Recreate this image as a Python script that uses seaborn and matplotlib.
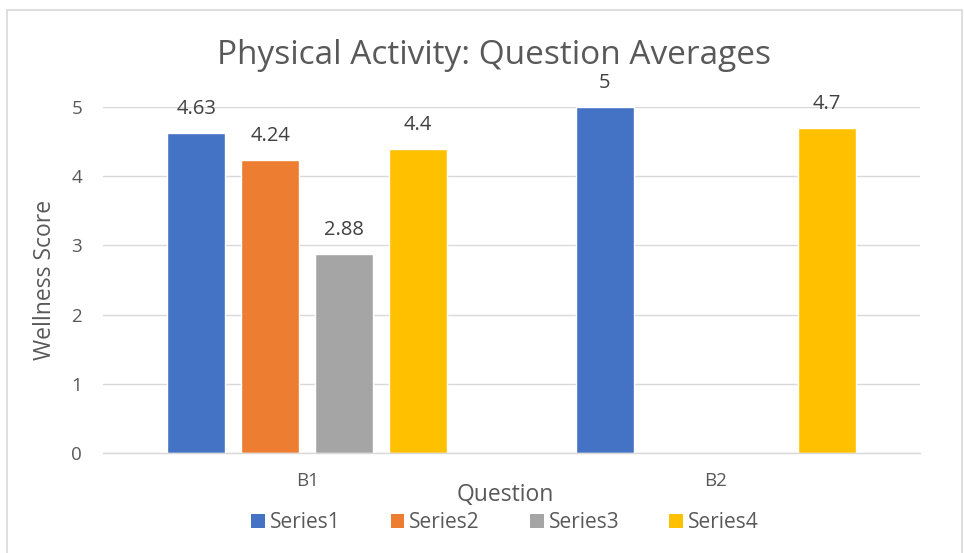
import numpy as np
import pandas as pd
import seaborn as sns
import matplotlib.pyplot as plt
from matplotlib.patches import Rectangle, Patch

# Chart data
questions = ["B1", "B2"]
series = ["Series1", "Series2", "Series3", "Series4"]
series1 = [4.63, 5.0]
series2 = [4.24, np.nan]
series3 = [2.88, np.nan]
series4 = [4.4, 4.7]
y_ticks = [0, 1, 2, 3, 4, 5]

colors = ["#4472C4", "#ED7D31", "#A5A5A5", "#FFC000"]
text_color = "#595959"
label_color = "#404040"
grid_color = "#D9D9D9"

df = pd.DataFrame({"Question": questions, "Series1": series1, "Series2": series2,
                   "Series3": series3, "Series4": series4})
df_long = pd.melt(df, id_vars="Question", var_name="Series", value_name="Score")

sns.set_style("white")
plt.rcParams["font.family"] = ["Open Sans", "DejaVu Sans"]

fig = plt.figure(figsize=(9.64, 5.53), dpi=100)
ax = fig.add_axes([103 / 964, 1 - 453 / 553, 817 / 964, 346 / 553])

sns.barplot(data=df_long, x="Question", y="Score", hue="Series",
            order=questions, hue_order=series, palette=colors,
            width=0.725, gap=0.216, ax=ax, legend=False, saturation=1)

for c in ax.containers:
    ax.bar_label(c, labels=[("" if np.isnan(v) else f"{v:g}") for v in c.datavalues],
                 padding=10, fontsize=14.5, color=label_color, clip_on=False)

ax.set_ylim(0, 5)
ax.set_yticks(y_ticks)
ax.set_xlim(-0.5, 1.5)
ax.yaxis.grid(True, color=grid_color, linewidth=1)
ax.set_axisbelow(True)
for s in ["top", "right", "left"]:
    ax.spines[s].set_visible(False)
ax.spines["bottom"].set_color(grid_color)
ax.spines["bottom"].set_linewidth(1)
ax.tick_params(axis="y", length=0, pad=15, labelsize=13.5, labelcolor=text_color)
ax.tick_params(axis="x", length=0, pad=14, labelsize=13.5, labelcolor=text_color)

ax.set_xlabel("")
ax.set_ylabel("")
fig.text(505 / 964, 1 - 495 / 553, "Question", ha="center", va="center",
         fontsize=16.5, color=text_color)
fig.text(45 / 964, 1 - 280 / 553, "Wellness Score", ha="center", va="center",
         rotation=90, fontsize=16.5, color=text_color)
fig.text(494 / 964, 1 - 55 / 553, "Physical Activity: Question Averages",
         ha="center", va="center", fontsize=24, color=text_color)

handles = [Patch(facecolor=col, edgecolor="none") for col in colors]
fig.legend(handles, series, loc="center", bbox_to_anchor=(505 / 964, 1 - 523 / 553),
           ncol=4, frameon=False, fontsize=15, labelcolor=text_color,
           handlelength=0.65, handleheight=0.65, handletextpad=0.25, columnspacing=2.4)

fig.patches.append(Rectangle((7 / 964, -0.01), 955 / 964, 1 - 10 / 553 + 0.01,
                             transform=fig.transFigure, fill=False,
                             edgecolor=grid_color, linewidth=1.2))

fig.savefig("out.png", dpi=100)
